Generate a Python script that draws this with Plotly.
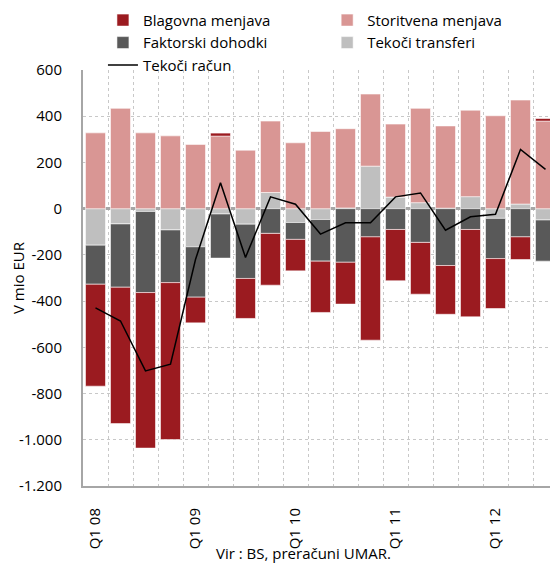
import plotly.graph_objects as go

quarters = [
    "Q1 08", "Q2 08", "Q3 08", "Q4 08",
    "Q1 09", "Q2 09", "Q3 09", "Q4 09",
    "Q1 10", "Q2 10", "Q3 10", "Q4 10",
    "Q1 11", "Q2 11", "Q3 11", "Q4 11",
    "Q1 12", "Q2 12", "Q3 12",
]

# mio EUR
blagovna = [-441, -590, -673, -679, -111, 13, -173, -224, -136, -222,
            -181, -447, -222, -224, -211, -378, -216, -98, 11]
storitvena = [328, 434, 328, 315, 278, 314, 253, 309, 285, 334,
              343, 312, 316, 408, 356, 374, 402, 450, 379]
faktorski = [-169, -274, -351, -228, -218, -191, -235, -107, -73, -180,
             -232, -122, -90, -146, -246, -90, -174, -122, -178]
transferi = [-158, -66, -12, -92, -165, -23, -67, 70, -60, -47,
             3, 184, 50, 26, 2, 52, -42, 20, -49]
tekoci_racun = [-429, -486, -702, -673, -220, 112, -211, 51, 19, -110,
                -61, -61, 51, 68, -93, -35, -24, 256, 170]

y_ticks = [600, 400, 200, 0, -200, -400, -600, -800, -1000, -1200]
y_labels = ["600", "400", "200", "0", "-200", "-400", "-600", "-800", "-1.000", "-1.200"]

x_labels = [q if q.startswith("Q1") else "" for q in quarters]

FONT = "Open Sans"
edge = dict(color="rgba(255,255,255,0.7)", width=0.8)

fig = go.Figure()

# order matters for stacking: transfers sit next to the zero line
# legend is split into two columns (legend / legend2)
fig.add_trace(go.Bar(x=quarters, y=transferi, name="Tekoči transferi",
                     marker=dict(color="#bfbfbf", line=edge),
                     legend="legend2", legendrank=2))
fig.add_trace(go.Bar(x=quarters, y=storitvena, name="Storitvena menjava",
                     marker=dict(color="#d99694", line=edge),
                     legend="legend2", legendrank=1))
fig.add_trace(go.Bar(x=quarters, y=faktorski, name="Faktorski dohodki",
                     marker=dict(color="#595959", line=edge), legendrank=2))
fig.add_trace(go.Bar(x=quarters, y=blagovna, name="Blagovna menjava",
                     marker=dict(color="#9b1b20", line=edge), legendrank=1))
fig.add_trace(go.Scatter(x=quarters, y=tekoci_racun, name="Tekoči račun",
                         mode="lines", line=dict(color="black", width=1.5),
                         legendrank=3))

legend_style = dict(
    orientation="v",
    y=1.159, xanchor="left", yanchor="top",
    traceorder="normal",
    font=dict(size=15),
    bgcolor="rgba(0,0,0,0)",
)

# page body adds an 8px margin, so the figure is 8px smaller than the window
fig.update_layout(
    width=550, height=557,
    barmode="relative",
    bargap=0.2,
    plot_bgcolor="white",
    paper_bgcolor="white",
    font=dict(family=FONT, size=15, color="black"),
    margin=dict(l=75, r=0, t=62, b=79, autoexpand=False),
    legend=dict(x=0.042, **legend_style),
    legend2=dict(x=0.514, **legend_style),
    annotations=[dict(
        text="Vir : BS, preračuni UMAR.",
        xref="paper", yref="paper",
        x=0.465, y=-0.161, xanchor="center", yanchor="middle",
        showarrow=False, font=dict(size=15),
    )],
)

fig.update_xaxes(
    type="category",
    tickson="boundaries",
    tickmode="array", tickvals=quarters, ticktext=x_labels,
    tickangle=-90,
    ticks="", ticklabelstandoff=14,
    showgrid=True, gridcolor="#c8c8c8", griddash="dot", gridwidth=1,
    showline=True, linecolor="#a6a6a6", linewidth=2,
    range=[-0.5, len(quarters) - 0.5],
)

fig.update_yaxes(
    range=[-1200, 600],
    tickmode="array", tickvals=y_ticks, ticktext=y_labels,
    ticks="", ticklabelstandoff=16,
    showgrid=True, gridcolor="#c8c8c8", griddash="dot", gridwidth=1,
    zeroline=True, zerolinecolor="#a6a6a6", zerolinewidth=3,
    showline=True, linecolor="#a6a6a6", linewidth=2,
    title=dict(text="V mio EUR", standoff=6, font=dict(size=15)),
)

fig.write_html("out.html")
